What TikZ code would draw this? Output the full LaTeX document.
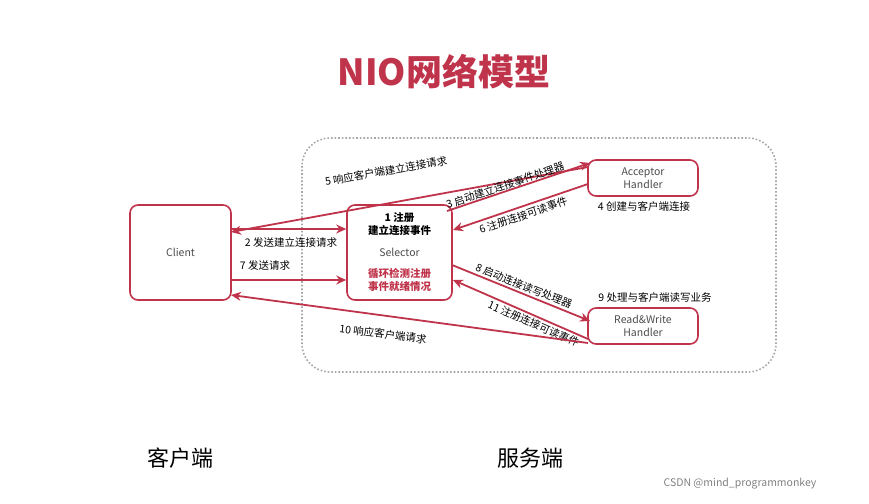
\documentclass[tikz,border=0pt]{standalone}
\usepackage{fontspec}
\setmainfont{Noto Sans CJK SC}
\usetikzlibrary{arrows.meta}
\definecolor{nred}{HTML}{C0344B}
\begin{document}
\begin{tikzpicture}[x=1pt,y=-1pt,
  box/.style={draw=nred,line width=1.6pt,rounded corners=8pt,fill=white,inner sep=0pt},
  arr/.style={draw=nred,line width=1.8pt,-{Stealth[length=10pt,width=9pt]}},
  lbl/.style={font=\fontsize{10.5}{12}\selectfont,text=black,inner sep=1pt},
  btxt/.style={font=\fontsize{10.5}{12}\selectfont,text=black!70,align=center}]
\useasboundingbox (0,0) rectangle (869,503);
\node[font=\fontsize{36}{40}\selectfont\bfseries,text=nred] (title) at (444,72) {NIO网络模型};
\draw[gray!70,line width=1.6pt,dotted,rounded corners=28pt] (302,138) rectangle (776,372);
\node[box,minimum width=101pt,minimum height=95pt] (cl) at (180.5,252.5) {};
\node[btxt] (clt) at (cl) {Client};
\node[box,minimum width=105pt,minimum height=95pt] (sel) at (399.5,252.5) {};
\node[lbl,align=center,font=\fontsize{10.5}{13}\selectfont\bfseries] (s1) at (399.5,224) {1 注册\\建立连接事件};
\node[btxt] (s2) at (399.5,252) {Selector};
\node[lbl,text=nred,align=center,font=\fontsize{10.5}{13}\selectfont\bfseries] (s3) at (399.5,280) {循环检测注册\\事件就绪情况};
\node[box,minimum width=110pt,minimum height=36pt] (acc) at (643,178) {};
\node[btxt,font=\fontsize{10.5}{13}\selectfont] (acct) at (acc) {Acceptor\\Handler};
\node[box,minimum width=110pt,minimum height=36pt] (rw) at (643,326) {};
\node[btxt,font=\fontsize{10.5}{13}\selectfont] (rwt) at (rw) {Read\&Write\\Handler};
\coordinate (a5) at (588,167); \coordinate (c5) at (231,232);
\draw[arr] (a5) -- (c5);
\node[lbl,rotate=10] (l5) at (386,171) {5 响应客户端建立连接请求};
\coordinate (s3a) at (447,211); \coordinate (a3) at (590,163);
\draw[arr] (s3a) -- node[lbl,pos=0.42,above=-1pt,sloped] {3 启动建立连接事件处理器} (a3);
\coordinate (a6) at (588,184); \coordinate (s6) at (453,230);
\draw[arr] (a6) -- node[lbl,pos=0.5,below=2pt,sloped] {6 注册连接可读事件} (s6);
\draw[arr] (cl.east |- 0,229) -- (sel.west |- 0,229);
\node[lbl] (l2) at (291,242) {2 发送建立连接请求};
\draw[arr] (cl.east |- 0,280) -- (sel.west |- 0,280);
\node[lbl] (l7) at (265,266) {7 发送请求};
\coordinate (s8) at (452,265); \coordinate (r8) at (590,321);
\draw[arr] (s8) -- node[lbl,pos=0.5,above=1pt,sloped] {8 启动连接读写处理器} (r8);
\coordinate (r11) at (588,339); \coordinate (s11) at (453,280);
\draw[arr] (r11) -- node[lbl,pos=0.38,below=1pt,sloped] {11 注册连接可读事件} (s11);
\coordinate (r10) at (588,343); \coordinate (c10) at (231,295);
\draw[arr] (r10) -- (c10);
\node[lbl,rotate=-7] (l10) at (383,334) {10 响应客户端请求};
\node[lbl] (l4) at (644,206) {4 创建与客户端连接};
\node[lbl] (l9) at (655,297) {9 处理与客户端读写业务};
\node[font=\fontsize{22}{24}\selectfont] (kh) at (180,458) {客户端};
\node[font=\fontsize{22}{24}\selectfont] (fw) at (530,458) {服务端};
\node[font=\fontsize{10.5}{12}\selectfont,text=gray] (wm) at (740,484) {CSDN @mind\_programmonkey};
\end{tikzpicture}
\end{document}
